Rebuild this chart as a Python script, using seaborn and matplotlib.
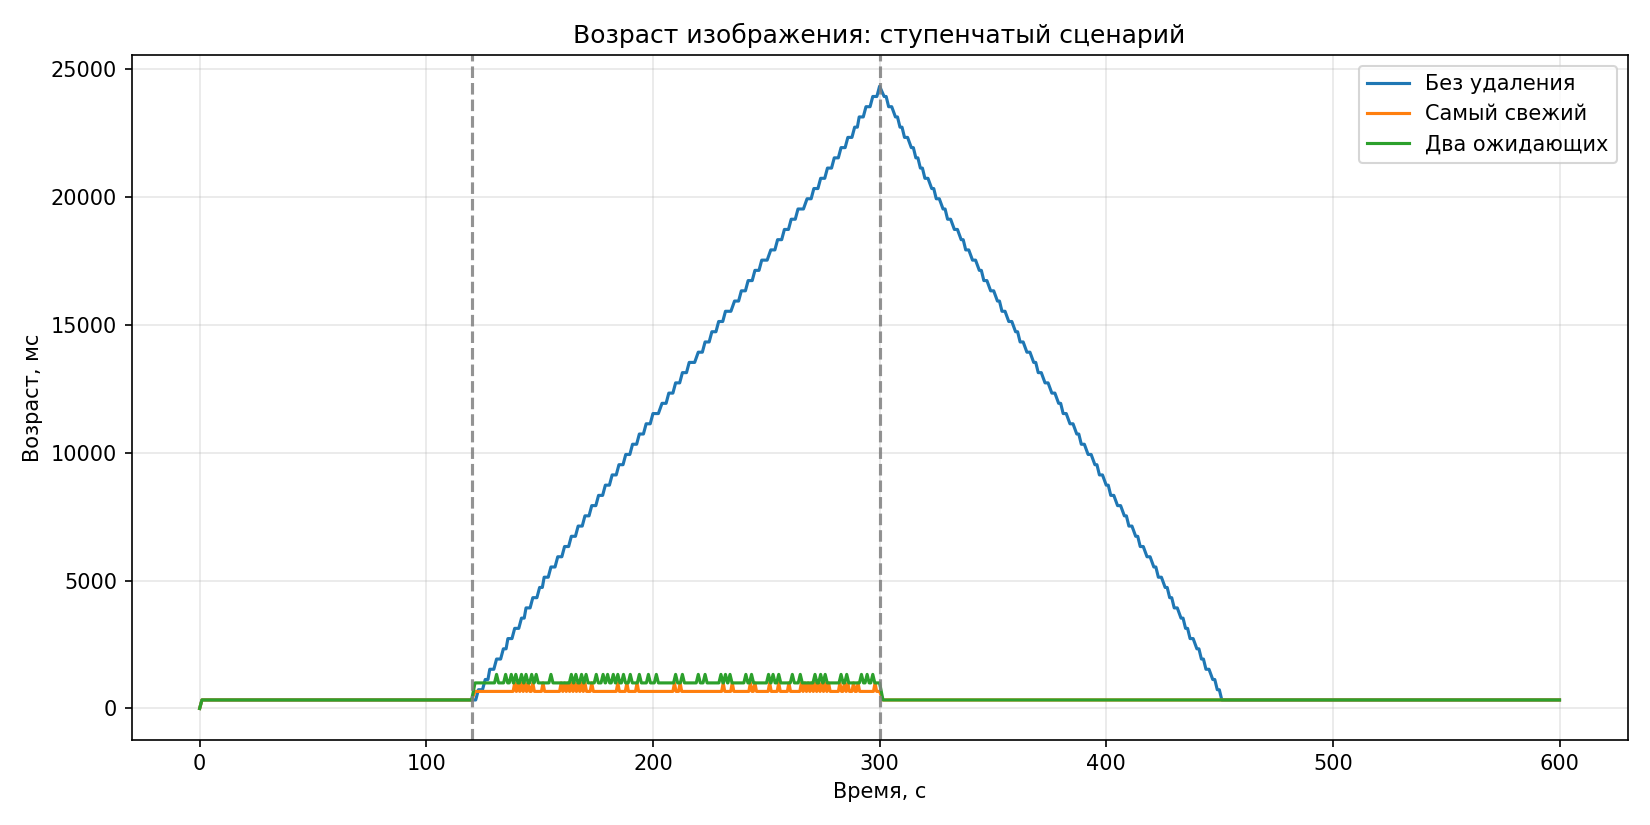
import numpy as np
import matplotlib
matplotlib.use('Agg')
import matplotlib.pyplot as plt
import seaborn as sns

# step levels of the "no drop" queue (ms) and the second at which each level is reached
up_t = [120, 123, 126, 128, 131, 134, 136, 139, 142, 144,
        147, 150, 152, 155, 158, 161, 164, 167, 170, 173,
        176, 179, 182, 185, 188, 191, 194, 197, 200, 204,
        207, 210, 213, 216, 220, 223, 226, 229, 232, 236,
        239, 242, 245, 248, 252, 255, 258, 261, 264, 268,
        271, 274, 277, 280, 283, 286, 289, 291, 294, 297, 300]
up_v = [333, 733, 1133, 1533, 1933, 2333, 2733, 3133, 3533, 3933,
        4333, 4733, 5133, 5533, 5933, 6333, 6733, 7133, 7533, 7933,
        8333, 8733, 9133, 9533, 9933, 10333, 10733, 11133, 11533, 11933,
        12333, 12733, 13133, 13533, 13933, 14333, 14733, 15133, 15533, 15933,
        16333, 16733, 17133, 17533, 17933, 18333, 18733, 19133, 19533, 19933,
        20333, 20733, 21133, 21533, 21933, 22333, 22733, 23133, 23533, 23933, 24333]
down_t = [300, 302, 304, 307, 309, 311, 314, 316, 318, 320,
          323, 325, 328, 330, 333, 336, 338, 341, 344, 346,
          349, 352, 354, 357, 360, 362, 365, 368, 370, 373,
          376, 379, 381, 384, 387, 389, 392, 395, 397, 400,
          402, 405, 408, 410, 413, 415, 418, 421, 423, 426,
          428, 430, 433, 435, 437, 440, 442, 444, 447, 449, 451]
down_v = [24333, 23933, 23533, 23133, 22733, 22333, 21933, 21533, 21133, 20733,
          20333, 19933, 19533, 19133, 18733, 18333, 17933, 17533, 17133, 16733,
          16333, 15933, 15533, 15133, 14733, 14333, 13933, 13533, 13133, 12733,
          12333, 11933, 11533, 11133, 10733, 10333, 9933, 9533, 9133, 8733,
          8333, 7933, 7533, 7133, 6733, 6333, 5933, 5533, 5133, 4733,
          4333, 3933, 3533, 3133, 2733, 2333, 1933, 1533, 1133, 733, 333]

base_age = 333
t_end = 600

# "newest" and "two pending": level during the overload and the moments of the spikes
fresh_level, fresh_peak = 667, 1000
fresh_spikes = [139, 140.5, 142, 143.5, 145, 147, 151.5, 159.5, 161, 162.5,
                164, 165.5, 167, 168.5, 170, 173, 184.5, 188.5, 193, 209.5,
                212, 231, 235, 243, 245, 251.5, 255.5, 260, 265.5, 267,
                268.5, 270, 271.5, 273, 274.5, 276, 277.5, 282.5, 284.5, 286,
                288.5, 290.5, 298]
two_level, two_peak = 1000, 1333
two_spikes = [131, 135, 137.5, 139.5, 142, 144, 146.5, 148.5, 155, 164,
              166, 168.5, 170.5, 175, 178, 180, 182.5, 184.5, 187, 190,
              194, 198, 201.5, 210, 213, 220, 223, 230, 232, 234,
              241, 243.5, 251, 253, 255.5, 261.5, 265, 271.5, 274, 276,
              283, 285.5, 292, 294.5, 297]

load_start, load_end = 120, 300


def staircase(ts, vs, share=0.6):
    # each level is held for a part of its step, then the line moves to the next one
    xs, ys = [], []
    for i in range(len(ts)):
        xs.append(ts[i]); ys.append(vs[i])
        if i < len(ts) - 1:
            xs.append(ts[i] + share * (ts[i + 1] - ts[i])); ys.append(vs[i])
    return xs, ys


def spiky(level, peak, spikes, half):
    xs = [0, 1, load_start, load_start + 1.5]
    ys = [0, base_age, base_age, level]
    for s in spikes:
        xs += [s - half, s, s + half]
        ys += [level, peak, level]
    xs += [load_end, load_end + 1.5, t_end]
    ys += [level, base_age, base_age]
    return xs, ys


ux, uy = staircase(up_t, up_v)
dx, dy = staircase(down_t, down_v, share=0.45)
blue_x = [0, 1] + ux[:-1] + dx[:1] + dx[2:] + [t_end]
blue_y = [0, base_age] + uy[:-1] + dy[:1] + dy[2:] + [base_age]

fx, fy = spiky(fresh_level, fresh_peak, fresh_spikes, 0.7)
gx, gy = spiky(two_level, two_peak, two_spikes, 0.9)

fig, ax = plt.subplots(figsize=(11, 5.5), dpi=150)
pal = sns.color_palette('tab10')
sns.lineplot(x=blue_x, y=blue_y, estimator=None, sort=False, color=pal[0],
             lw=1.5, label='Без удаления', ax=ax)
sns.lineplot(x=fx, y=fy, estimator=None, sort=False, color=pal[1],
             lw=1.5, label='Самый свежий', ax=ax)
sns.lineplot(x=gx, y=gy, estimator=None, sort=False, color=pal[2],
             lw=1.5, label='Два ожидающих', ax=ax)

for t in (load_start, load_end):
    ax.axvline(t, color='gray', ls='--', lw=1.5, alpha=0.85)

ax.set_title('Возраст изображения: ступенчатый сценарий')
ax.set_xlabel('Время, с')
ax.set_ylabel('Возраст, мс')
ax.grid(True, alpha=0.3)
ax.legend(loc='upper right')
fig.tight_layout()
fig.savefig('out.png')
